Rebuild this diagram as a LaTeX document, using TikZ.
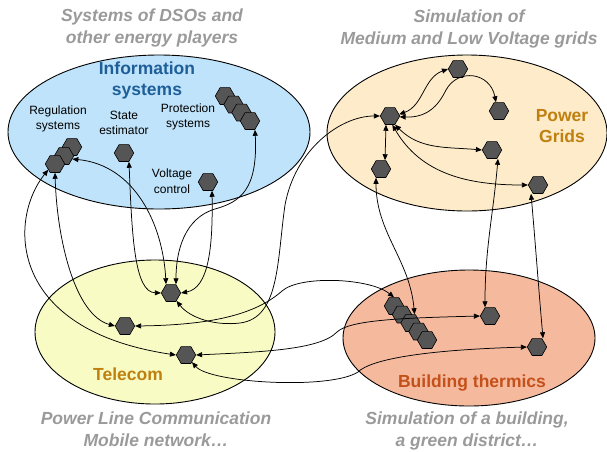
\documentclass[tikz,border=0pt]{standalone}
\usepackage{fontspec}
\setmainfont{Liberation Sans}
\usepackage{tikz}
\usetikzlibrary{shapes.geometric,arrows.meta}

\definecolor{infofill}{HTML}{BFE3FA}
\definecolor{gridfill}{HTML}{FEEBC9}
\definecolor{telefill}{HTML}{F8FCC4}
\definecolor{buildfill}{HTML}{F5BA9E}
\definecolor{infotext}{HTML}{1F5F99}
\definecolor{goldtext}{HTML}{BF8010}
\definecolor{buildtext}{HTML}{C4501A}
\definecolor{titlegray}{HTML}{9A9A9A}
\definecolor{hexgray}{HTML}{555555}

\begin{document}
\begin{tikzpicture}[x=1pt,y=-1pt,
        hexa/.style={regular polygon, regular polygon sides=6, minimum size=19.5pt, inner sep=0pt,
            draw=black, line width=0.6pt, fill=hexgray},
        link/.style={{Triangle[length=6pt,width=5pt]}-{Triangle[length=6pt,width=5pt]}, line width=0.75pt},
        graytitle/.style={text=titlegray, font=\fontsize{17.5}{22}\selectfont\bfseries\itshape, align=center},
        domlabel/.style={font=\fontsize{17.5}{21}\selectfont\bfseries, align=center},
        smalllabel/.style={font=\fontsize{12}{15.5}\selectfont, align=center}]
        \useasboundingbox (0,0) rectangle (607,451);
        % drawing the four domains
        \draw[line width=0.9pt, fill=infofill] (159,132) ellipse [x radius=151pt, y radius=77pt];
        \draw[line width=0.9pt, fill=gridfill] (467,133) ellipse [x radius=140pt, y radius=78pt];
        \draw[line width=0.9pt, fill=telefill] (155,332) ellipse [x radius=120pt, y radius=72pt];
        \draw[line width=0.9pt, fill=buildfill] (469,338) ellipse [x radius=126pt, y radius=68pt];
        % titles
        \node[graytitle] (titleinfo) at (152,28) {Systems of DSOs and\\other energy players};
        \node[graytitle] (titlegrid) at (469,29) {Simulation of\\Medium and Low Voltage grids};
        \node[graytitle] (titletele) at (156,429) {Power Line Communication\\Mobile network\ldots};
        \node[graytitle] (titlebuild) at (467,431) {Simulation of a building,\\a green district\ldots};
        \node[domlabel, text=infotext] (labinfo) at (147,80) {Information\\systems};
        \node[domlabel, text=goldtext] (labgrid) at (562,126) {Power\\Grids};
        \node[domlabel, text=goldtext] (labtele) at (128,374) {Telecom};
        \node[domlabel, text=buildtext] (labbuild) at (472,383) {Building thermics};
        \node[smalllabel] (labreg) at (58,119) {Regulation\\systems};
        \node[smalllabel] (labest) at (124,123) {State\\estimator};
        \node[smalllabel] (labprot) at (188,117) {Protection\\systems};
        \node[smalllabel] (labvolt) at (172,181) {Voltage\\control};
        % drawing points
        \node[hexa] (reg1) at (72,147) {};
        \node[hexa] (reg2) at (64,156) {};
        \node[hexa] (reg3) at (55,164) {};
        \node[hexa] (est) at (124,153) {};
        \node[hexa] (volt) at (208,182) {};
        \node[hexa] (prot1) at (225,96) {};
        \node[hexa] (prot2) at (233.5,104.5) {};
        \node[hexa] (prot3) at (241.5,112.5) {};
        \node[hexa] (prot4) at (250,121) {};
        \node[hexa] (hub) at (390,116) {};
        \node[hexa] (pgtop) at (458,69) {};
        \node[hexa] (pgarc) at (499,111) {};
        \node[hexa] (pgmid) at (492,150) {};
        \node[hexa] (pgbot) at (538,185) {};
        \node[hexa] (pglow) at (381,169) {};
        \node[hexa] (teltop) at (171,293) {};
        \node[hexa] (telleft) at (125,326) {};
        \node[hexa] (telright) at (186,355) {};
        \node[hexa] (bld1) at (394,306) {};
        \node[hexa] (bld2) at (402,314.5) {};
        \node[hexa] (bld3) at (410.5,323) {};
        \node[hexa] (bld4) at (418.5,331.5) {};
        \node[hexa] (bld5) at (427,340) {};
        \node[hexa] (bldup) at (490,316) {};
        \node[hexa] (bldlow) at (537,347) {};
        % links inside the grid
        \draw[link] (hub.10) to[out=20,in=200] (pgtop.west);
        \draw[link] (hub.-5) .. controls (430,118) and (440,102) .. (446,90) .. controls (458,68) and (490,72) .. ([xshift=-3pt]pgarc.north);
        \draw[link] ([xshift=-4pt]hub.south) -- ([xshift=4pt]pglow.north);
        \draw[link] (hub.-60) to[out=-45,in=175] (pgmid.west);
        \draw[link] (hub.-75) to[out=-60,in=180] (pgbot.west);
        % grid to building
        \draw[link] ([xshift=-5pt]pglow.south) to[out=-90,in=95] ([xshift=4pt]bld3.north);
        \draw[link] ([xshift=6pt]pgmid.south) to[out=-95,in=90] ([xshift=-5pt]bldup.north);
        \draw[link] ([xshift=-7pt]pgbot.south) to[out=-85,in=95] ([xshift=6pt]bldlow.north);
        % grid to telecom
        \draw[link] (hub.west) .. controls (340,116) and (295,150) .. (285,205) .. controls (277,260) and (280,318) .. (240,323) .. controls (215,326) and (190,318) .. (teltop.-55);
        % telecom to building
        \draw[link] (telleft.east) .. controls (210,325) and (255,315) .. (282,291) .. controls (300,275) and (370,278) .. (bld1.north);
        \draw[link] (telright.east) .. controls (260,352) and (320,350) .. (337,332) .. controls (350,320) and (400,318) .. (bldup.west);
        \draw[link] (telright.-50) .. controls (210,383) and (330,390) .. (358,372) .. controls (370,360) and (420,350) .. (bldlow.west);
        % information systems to telecom
        \draw[link] (reg3.-140) .. controls (8,220) and (8,330) .. (telright.west);
        \draw[link] (reg3.south) .. controls (57,240) and (75,315) .. (telleft.west);
        \draw[link] (reg2.-20) .. controls (135,165) and (163,225) .. ([xshift=-5pt]teltop.north);
        \draw[link] ([xshift=5pt]est.south) .. controls (132,240) and (135,292) .. (teltop.west);
        \draw[link] ([xshift=4pt]volt.south) .. controls (213,250) and (208,288) .. (teltop.east);
        \draw[link] ([xshift=5pt]prot4.south) .. controls (258,190) and (240,202) .. (215,209) .. controls (185,218) and (176,250) .. ([xshift=5pt]teltop.north);
    \end{tikzpicture}
\end{document}
